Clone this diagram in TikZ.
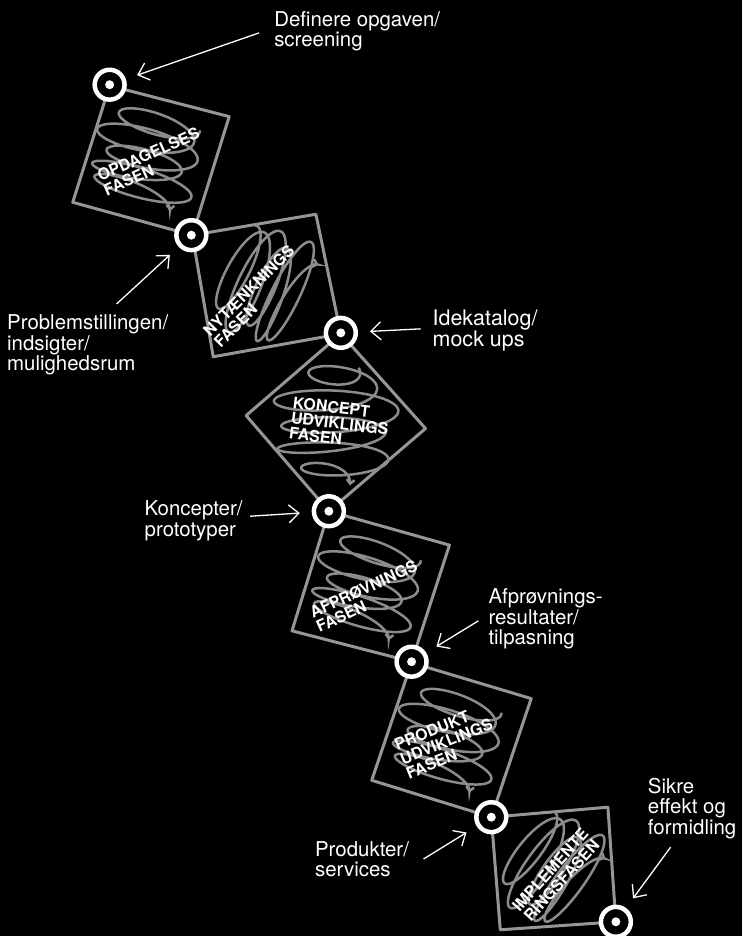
\documentclass[tikz,border=0pt]{standalone}
\usepackage{fontspec}
\setmainfont{TeX Gyre Heros}
\usetikzlibrary{arrows.meta,positioning}

\definecolor{framegray}{RGB}{150,150,150}
\definecolor{coilgray}{RGB}{140,140,140}

% scribble coil: centre, angle, half width, bulge, height
\newcommand{\coil}[5]{%
  \draw[coilline, shift={#1}, rotate=#2]
    plot[domain=0:31.4159, samples=360, variable=\t]
    ({(#3+#4*sin(5.7296*\t))*cos(\t r)+9*sin(0.55*\t r)}, {-#5/2+#5*\t/31.4159+13*sin(\t r)+3*cos(0.8*\t r)});}

\begin{document}
\begin{tikzpicture}[x=1pt, y=-1pt,
  stagebox/.style={draw=framegray, line width=3pt, line join=round},
  coilline/.style={draw=coilgray, line width=2.5pt, -{Straight Barb[length=4pt,width=8pt]}},
  hub/.style={circle, draw=white, line width=4.5pt, fill=black, minimum size=30pt, inner sep=0pt,
              path picture={\fill[white] (path picture bounding box.center) circle (4.5pt);}},
  phasetext/.style={text=white, font=\fontsize{16}{15.5}\selectfont\bfseries, align=left, inner sep=0pt},
  sidenote/.style={text=white, font=\fontsize{20.5}{20.5}\selectfont, align=left, anchor=base west, inner sep=0pt},
  notearrow/.style={white, line width=1.3pt, -{Straight Barb[length=10pt,width=18pt]}, shorten >=12pt}
]

\fill[black] (0,0) rectangle (745,939);

% the six phases
\draw[stagebox] (110,86) -- (230,117) -- (193,236) -- (73,203) -- cycle;
\draw[stagebox] (193,236) -- (317,215) -- (342,335) -- (214,358) -- cycle;
\draw[stagebox] (342,335) -- (427,430) -- (330,513) -- (247,417) -- cycle;
\draw[stagebox] (330,513) -- (451,547) -- (413,664) -- (293,633) -- cycle;
\draw[stagebox] (413,665) -- (533,701) -- (493,820) -- (373,783) -- cycle;
\draw[stagebox] (493,820) -- (610,810) -- (618,925) -- (502,933) -- cycle;

\coil{(146,158)}{-14.5}{46}{0}{86}
\coil{(266,286)}{65}{50}{0}{74}
\coil{(336,425)}{0}{24}{36}{118}
\coil{(367,588)}{-16}{46}{0}{86}
\coil{(448,741)}{-16}{46}{0}{86}
\coil{(554,872)}{55}{48}{0}{70}

\node[phasetext, rotate=24] (t1) at (152,162) {OPDAGELSES\\FASEN};
\node[phasetext, rotate=45] (t2) at (255,297) {NYTÆNKNINGS\\FASEN};
\node[phasetext, rotate=-7] (t3) at (341,425) {KONCEPT\\UDVIKLINGS\\FASEN};
\node[phasetext, rotate=25] (t4) at (368,598) {AFPRØVNINGS\\FASEN};
\node[phasetext, rotate=22] (t5) at (448,744) {PRODUKT\\UDVIKLINGS\\FASEN};
\node[phasetext, rotate=48] (t6) at (558,878) {IMPLEMENTE\\RINGSFASEN};

% milestones
\node[hub] (c1) at (110,85) {};
\node[hub] (c2) at (192,236) {};
\node[hub] (c3) at (342,334) {};
\node[hub] (c4) at (330,513) {};
\node[hub] (c5) at (413,664) {};
\node[hub] (c6) at (493,820) {};
\node[hub] (c7) at (618,925) {};

% outcomes (anchored on the last line)
\node[sidenote] (n1) at (275,47) {Definere opgaven/\\screening};
\node[sidenote] (n2) at (7,372) {Problemstillingen/\\indsigter/\\mulighedsrum};
\node[sidenote, font=\fontsize{21.5}{19}\selectfont] (n3) at (434,348) {Idekatalog/\\mock ups};
\node[sidenote] (n4) at (145,538) {Koncepter/\\prototyper};
\node[sidenote] (n5) at (490,647) {Afprøvnings-\\resultater/\\tilpasning};
\node[sidenote] (n6) at (316,880) {Produkter/\\services};
\node[sidenote] (n7) at (650,837) {Sikre\\effekt og\\formidling};

\coordinate (a1) at (260,33);
\coordinate (a2) at (117,305);
\coordinate (a3) at (422,330);
\coordinate (a4) at (251,518);
\coordinate (a5) at (480,623);
\coordinate (a6) at (425,862);
\coordinate (a7) at (673,850);

\draw[notearrow] (a1) -- (c1);
\draw[notearrow] (a2) -- (c2);
\draw[notearrow] (a3) -- (c3);
\draw[notearrow] (a4) -- (c4);
\draw[notearrow] (a5) -- (c5);
\draw[notearrow] (a6) -- (c6);
\draw[notearrow] (a7) -- (c7);

\end{tikzpicture}
\end{document}
